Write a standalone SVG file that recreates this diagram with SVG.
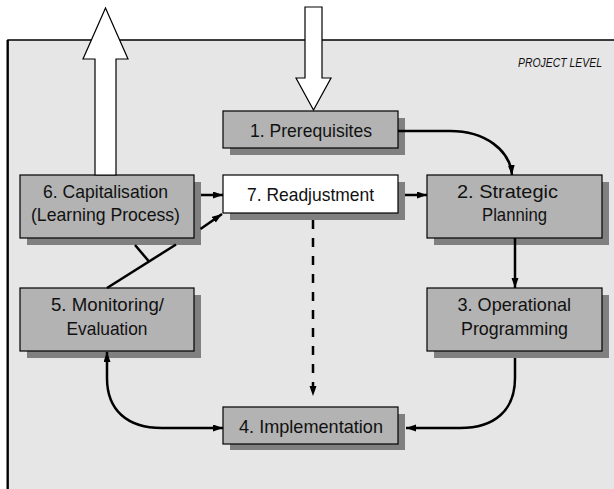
<svg xmlns="http://www.w3.org/2000/svg" width="614" height="489" viewBox="0 0 614 489">
<style>
.panel{fill:#e6e6e6;stroke:#000;stroke-width:1.5}
.box{fill:#b3b3b3;stroke:#000;stroke-width:1.2}
.wbox{fill:#ffffff;stroke:#000;stroke-width:1.2}
.shadow{fill:#808080}
.big{fill:#ffffff;stroke:#000;stroke-width:1.2}
.lbl{font-family:"Liberation Sans Narrow","Liberation Sans","DejaVu Sans Condensed",sans-serif;font-size:19px;fill:#111}
.lvl{font-family:"Liberation Sans Narrow","Liberation Sans",sans-serif;font-size:12.5px;font-style:italic;fill:#111}
.c{fill:none;stroke:#000;stroke-width:2.5}
.d{fill:none;stroke:#000;stroke-width:2.5;stroke-dasharray:9 9}
</style>
<defs>
<marker id="ah" markerUnits="userSpaceOnUse" markerWidth="11" markerHeight="8" refX="10" refY="3.5" orient="auto-start-reverse">
<path d="M0,0 L10,3.5 L0,7 z" fill="#000"/>
</marker>
</defs>
<rect class="panel" x="8" y="40" width="700" height="500"/>
<line x1="7.5" y1="40" x2="7.5" y2="489" stroke="#000" stroke-width="2"/>
<text class="lvl" x="518" y="67" textLength="84" lengthAdjust="spacingAndGlyphs">PROJECT LEVEL</text>

<g id="node1">
<rect class="shadow" x="230" y="118" width="175" height="37"/>
<rect class="box" x="223" y="111" width="175" height="37"/>
<text class="lbl" x="250" y="136.5" textLength="122" lengthAdjust="spacingAndGlyphs">1. Prerequisites</text>
</g>
<g id="node7">
<rect class="shadow" x="230" y="182" width="175" height="38"/>
<rect class="wbox" x="223" y="175" width="175" height="38"/>
<text class="lbl" x="247" y="201" textLength="127" lengthAdjust="spacingAndGlyphs">7. Readjustment</text>
</g>
<g id="node6">
<rect class="shadow" x="27" y="182" width="174" height="63"/>
<rect class="box" x="20" y="175" width="174" height="63"/>
<text class="lbl" x="43" y="198" textLength="125" lengthAdjust="spacingAndGlyphs">6. Capitalisation</text>
<text class="lbl" x="31" y="221" textLength="149" lengthAdjust="spacingAndGlyphs">(Learning Process)</text>
</g>
<g id="node2">
<rect class="shadow" x="434" y="182" width="175" height="63"/>
<rect class="box" x="427" y="175" width="175" height="63"/>
<text class="lbl" x="457" y="198" textLength="101" lengthAdjust="spacingAndGlyphs">2. Strategic</text>
<text class="lbl" x="482" y="221" textLength="65" lengthAdjust="spacingAndGlyphs">Planning</text>
</g>
<g id="node5">
<rect class="shadow" x="27" y="295" width="174" height="63"/>
<rect class="box" x="20" y="288" width="174" height="63"/>
<text class="lbl" x="51" y="311" textLength="113" lengthAdjust="spacingAndGlyphs">5. Monitoring/</text>
<text class="lbl" x="66.5" y="335" textLength="81" lengthAdjust="spacingAndGlyphs">Evaluation</text>
</g>
<g id="node3">
<rect class="shadow" x="434" y="295" width="175" height="63"/>
<rect class="box" x="427" y="288" width="175" height="63"/>
<text class="lbl" x="457.5" y="311" textLength="113.5" lengthAdjust="spacingAndGlyphs">3. Operational</text>
<text class="lbl" x="461" y="335" textLength="107" lengthAdjust="spacingAndGlyphs">Programming</text>
</g>
<g id="node4">
<rect class="shadow" x="230" y="414" width="175" height="36"/>
<rect class="box" x="223" y="407" width="175" height="37"/>
<text class="lbl" x="239" y="432.5" textLength="144" lengthAdjust="spacingAndGlyphs">4. Implementation</text>
</g>

<g id="connectors">
<path class="c" d="M398,131 L450,131 C485,131 510,150 512,175" marker-end="url(#ah)"/>
<path class="c" d="M201,195 L223,195" marker-end="url(#ah)"/>
<path class="c" d="M405,195 L427,195" marker-end="url(#ah)"/>
<path class="c" d="M515,238 L515,288" stroke-width="2" marker-end="url(#ah)"/>
<path class="c" d="M515,358 L515,378 C515,410 495,428 460,428 L406,428" marker-end="url(#ah)"/>
<path class="c" d="M107,352 L107,378 C107,410 127,428 162,428 L223,428" marker-start="url(#ah)" marker-end="url(#ah)"/>
<path class="d" d="M313,220 L313,396" marker-end="url(#ah)"/>
<path class="c" d="M107,288 L176,244.5"/>
<path class="c" d="M200.5,229 L222,214" marker-end="url(#ah)"/>
<path class="c" d="M135,245 L149,261.5"/>
</g>

<g id="arrow-out">
<polygon class="big" points="95,175 95,59 83,59 105.5,8 128,59 116,59 116,175"/>
</g>
<g id="arrow-in">
<polygon class="big" points="305,7 322,7 322,78 331,78 313.5,110 296,78 305,78"/>
</g>
</svg>
